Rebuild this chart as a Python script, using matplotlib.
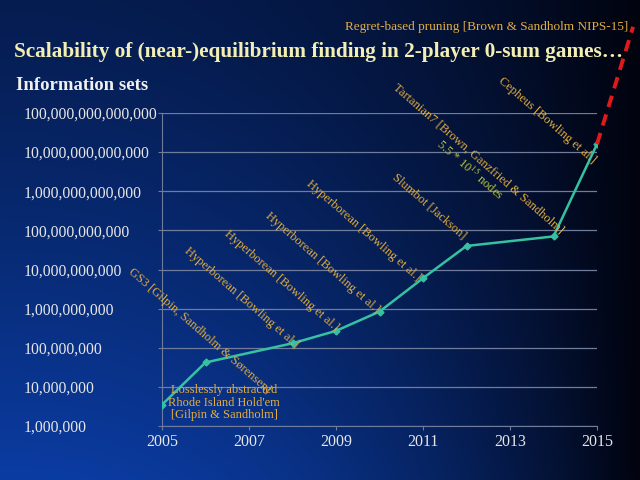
import numpy as np
import matplotlib
matplotlib.use("Agg")
import matplotlib.pyplot as plt
from matplotlib.ticker import FixedLocator, NullLocator

# data
years = [2005, 2006, 2008, 2009, 2010, 2011, 2012, 2014, 2015]
info_sets = [3.5e6, 4.2e7, 1.3e8, 2.7e8, 8.4e8, 6.0e9, 4.0e10, 7.0e10, 1.6e13]
trend_years = [2015, 2015.83]
trend_values = [1.6e13, 1.6e16]

ytick_values = [1e6, 1e7, 1e8, 1e9, 1e10, 1e11, 1e12, 1e13, 1e14]
ytick_labels = ["1,000,000", "10,000,000", "100,000,000", "1,000,000,000",
                "10,000,000,000", "100,000,000,000", "1,000,000,000,000",
                "10,000,000,000,000", "100,000,000,000,000"]
xtick_values = [2005, 2007, 2009, 2011, 2013, 2015]

labels = ["GS3 [Gilpin, Sandholm & Sørensen]",
          "Hyperborean [Bowling et al.]",
          "Hyperborean [Bowling et al.]",
          "Hyperborean [Bowling et al.]",
          "Hyperborean [Bowling et al.]",
          "Slumbot [Jackson]",
          "Tartanian7 [Brown, Ganzfried & Sandholm]",
          "Cepheus [Bowling et al.]"]
label_years = [2005.87, 2006.82, 2007.74, 2008.68, 2009.64, 2011.14, 2012.26, 2013.85]
label_logs = [8.42, 9.29, 9.72, 10.18, 11.0, 11.61, 12.84, 13.82]

plt.rcParams["font.family"] = ["Liberation Serif", "DejaVu Serif"]
plt.rcParams["mathtext.fontset"] = "stix"

gold = "#e3ad3f"
grid_col = "#6f7c9c"
fig = plt.figure(figsize=(6.4, 4.8), dpi=100)

# background gradient: bright blue bottom-left, near black on the right
bg = fig.add_axes([0, 0, 1, 1])
gx, gy = np.meshgrid(np.linspace(0, 1, 320), np.linspace(0, 1, 240))
h = np.clip(1 - gx ** 2.2, 0, 1)
v = 0.45 + 0.55 * gy ** 1.2
f = (h * v)[..., None]
c0 = np.array([11, 60, 162]) / 255
c1 = np.array([1, 3, 14]) / 255
img = c1 + (c0 - c1) * f
bg.imshow(img, aspect="auto", extent=[0, 1, 0, 1], origin="upper")
bg.axis("off")

ax = fig.add_axes([162 / 640, 1 - 426 / 480, 435 / 640, 313 / 480])
ax.set_facecolor("none")
ax.set_yscale("log")
ax.set_xlim(2005, 2015)
ax.set_ylim(1e6, 1e14)

ax.plot(years, info_sets, color="#35c2a2", lw=1.8, marker="D", ms=3.5, zorder=3)
ax.plot(trend_years, trend_values, color="#e01a1a", lw=2.8, ls=(0, (3, 2)),
        clip_on=False, zorder=3)

ax.yaxis.set_major_locator(FixedLocator(ytick_values))
ax.yaxis.set_minor_locator(NullLocator())
ax.set_yticklabels(ytick_labels)
ax.set_xticks(xtick_values)
ax.tick_params(axis="y", colors=grid_col, labelcolor="#e6e6e6", labelsize=11.3,
               length=3, pad=97)
ax.tick_params(axis="x", colors=grid_col, labelcolor="#e6e6e6", labelsize=11.5,
               length=3, pad=3)
for lab in ax.get_yticklabels():
    lab.set_horizontalalignment("left")
ax.grid(axis="y", color=grid_col, lw=0.9)
for s in ["top", "right"]:
    ax.spines[s].set_visible(False)
for s in ["left", "bottom"]:
    ax.spines[s].set_color(grid_col)

for txt, lx, ly in zip(labels, label_years, label_logs):
    ax.text(lx, 10 ** ly, txt, color=gold, fontsize=9, rotation=-41,
            rotation_mode="anchor", ha="center", va="center")
ax.text(2012.08, 10 ** 12.56, "5.5 * 10$^{15}$ nodes", color="#bcc43c",
        fontsize=9, rotation=-41, rotation_mode="anchor", ha="center", va="center")
ax.text(2006.43, 10 ** 6.6, "Losslessly abstracted\nRhode Island Hold'em\n[Gilpin & Sandholm]",
        color=gold, fontsize=9, ha="center", va="center", linespacing=1.1)

fig.text(14 / 640, 1 - 52 / 480, "Scalability of (near-)equilibrium finding in 2-player 0-sum games…",
         color="#f2eeb4", fontsize=15.3, fontweight="bold", va="center")
fig.text(16 / 640, 1 - 85 / 480, "Information sets", color="#f0f0f0",
         fontsize=13.5, fontweight="bold", va="center")
fig.text(628 / 640, 1 - 27 / 480, "Regret-based pruning [Brown & Sandholm NIPS-15]",
         color=gold, fontsize=9.5, ha="right", va="center")

fig.savefig("out.png", dpi=100)
